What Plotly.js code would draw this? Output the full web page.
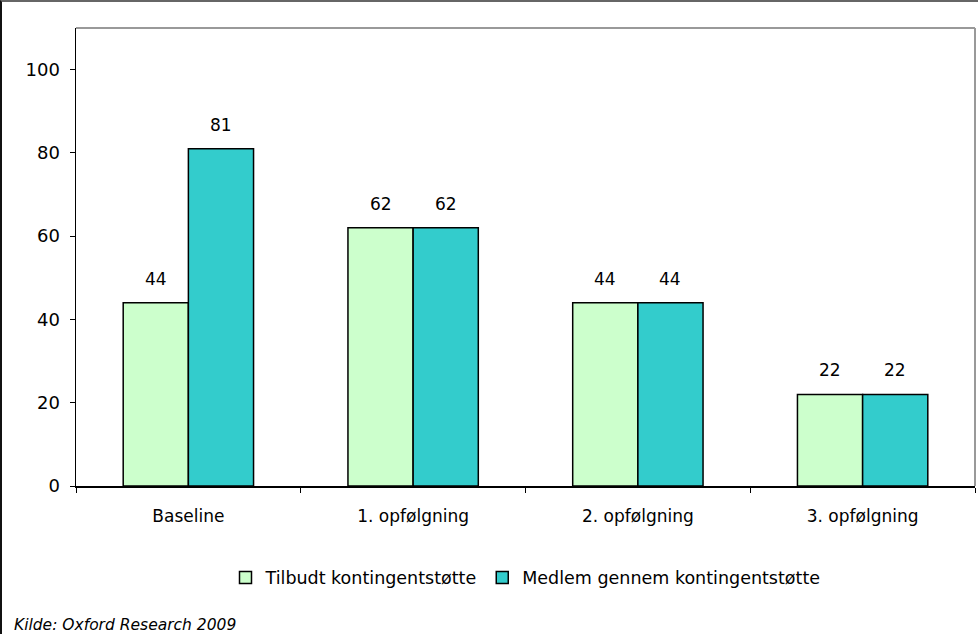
<!DOCTYPE html>
<html>
<head>
<meta charset="utf-8">
<script src="https://cdn.plot.ly/plotly-3.0.1.min.js"></script>
<style>
html,body{margin:0;padding:0;background:#fff;}
#wrap{position:absolute;left:0;top:0;width:976px;height:632px;border-top:2px solid #666;border-left:2px solid #111;}
#chart{width:976px;height:632px;}
</style>
</head>
<body>
<div id="wrap"><div id="chart"></div></div>
<script>
const categories = ["Baseline", "1. opfølgning", "2. opfølgning", "3. opfølgning"];
const seriesNames = ["Tilbudt kontingentstøtte", "Medlem gennem kontingentstøtte"];
const tilbudt = [44, 62, 44, 22];
const medlem = [81, 62, 44, 22];
const yTicks = [0, 20, 40, 60, 80, 100];

const font = {family: "DejaVu Sans, Verdana, sans-serif", size: 17, color: "#000"};

const W = 976, H = 632;
const margin = {l: 74, r: 3, t: 26, b: 148};
const bargap = 0.42;

const traces = [
  {type: "bar", name: seriesNames[0], x: categories, y: tilbudt,
   marker: {color: "#CCFFCC", line: {color: "#000", width: 1.5}}, hoverinfo: "x+y"},
  {type: "bar", name: seriesNames[1], x: categories, y: medlem,
   marker: {color: "#33CCCC", line: {color: "#000", width: 1.5}}, hoverinfo: "x+y"}
];

// value labels placed over each bar, offset by half a bar width
const plotW = W - margin.l - margin.r;
const barPx = plotW / categories.length * (1 - bargap) / 2;
const annotations = [];
[tilbudt, medlem].forEach((vals, si) => {
  vals.forEach((v, i) => {
    annotations.push({x: categories[i], y: v, xref: "x", yref: "y", text: String(v),
      showarrow: false, xanchor: "center", yanchor: "bottom",
      xshift: (si === 0 ? -1 : 1) * barPx / 2, yshift: 12, font: font});
  });
});
annotations.push({text: "Kilde: Oxford Research 2009", xref: "paper", yref: "paper",
  x: -0.0712, xanchor: "left", y: -0.3035, yanchor: "middle", showarrow: false,
  font: {family: font.family, size: 15.5, color: "#000", style: "italic"}});

const layout = {
  width: W, height: H,
  margin: margin,
  paper_bgcolor: "#fff", plot_bgcolor: "#fff",
  font: font,
  barmode: "group", bargap: bargap, bargroupgap: 0,
  showlegend: true,
  legend: {orientation: "h", x: 0.5, xanchor: "center", y: -0.2, yanchor: "middle",
           font: {family: font.family, size: 17.5, color: "#000"}, itemwidth: 30, traceorder: "normal"},
  xaxis: {type: "category", showline: true, linecolor: "#000", linewidth: 1.5,
          ticks: "outside", tickson: "boundaries", ticklen: 5, tickcolor: "#000",
          ticklabelstandoff: 14,
          showgrid: false, zeroline: false, tickfont: font, fixedrange: true},
  yaxis: {range: [0, 110], tickvals: yTicks, ticktext: yTicks.map(String),
          showline: true, linecolor: "#000", linewidth: 1.5,
          ticks: "outside", ticklen: 5, tickcolor: "#000",
          ticklabelstandoff: 6,
          showgrid: false, zeroline: false, tickfont: {family: font.family, size: 18, color: "#000"}, fixedrange: true},
  shapes: [
    {type: "line", xref: "paper", yref: "paper", x0: 0, x1: 1, y0: 1, y1: 1, line: {color: "#999", width: 2}},
    {type: "line", xref: "paper", yref: "paper", x0: 1, x1: 1, y0: 0, y1: 1, line: {color: "#999", width: 2}}
  ],
  annotations: annotations
};

Plotly.newPlot("chart", traces, layout, {displayModeBar: false, staticPlot: true});
</script>
</body>
</html>
